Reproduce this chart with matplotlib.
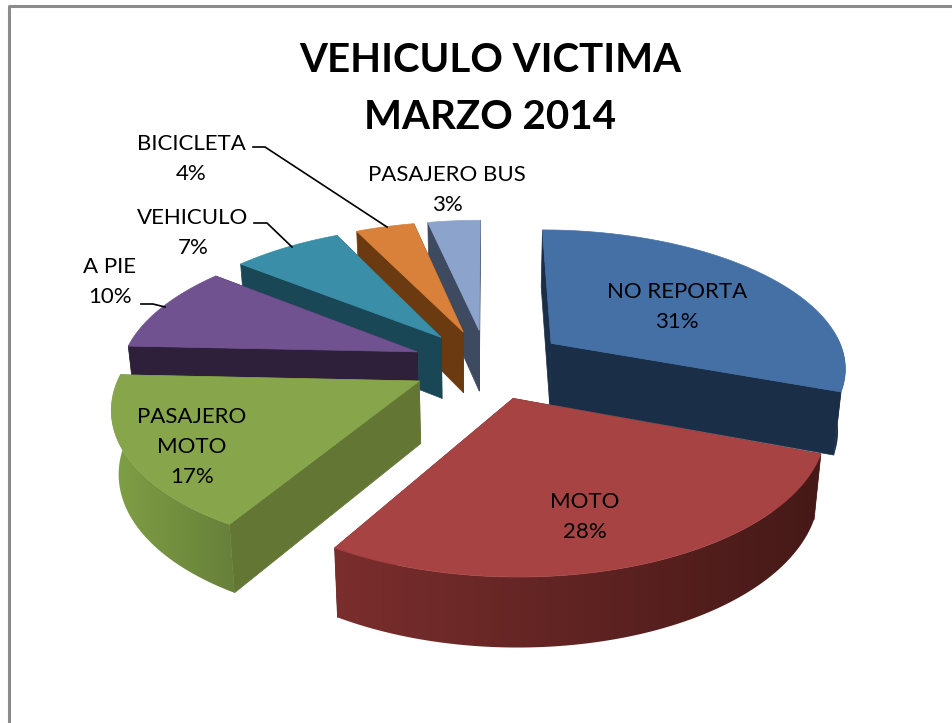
import numpy as np
import matplotlib
matplotlib.use("Agg")
import matplotlib.pyplot as plt
from matplotlib.colors import LinearSegmentedColormap
from matplotlib.patches import Polygon

# chart data
categories = ["NO REPORTA", "MOTO", "PASAJERO\nMOTO", "A PIE", "VEHICULO", "BICICLETA", "PASAJERO BUS"]
values = [30.7, 27.8, 17.2, 10.0, 7.1, 3.8, 3.4]
title = "VEHICULO VICTIMA\nMARZO 2014"

# styles, same order as categories
top_colors = ["#4470A6", "#A84343", "#87A54B", "#6F528F", "#3A8EA8", "#D9803A", "#8CA3CC"]
cut_colors = ["#1A2E47", "#5A2020", "#637634", "#2E203A", "#1A4756", "#6B3A10", "#3D4A60"]
rim_left = ["#1A2E47", "#7A2E2D", "#80A045", "#2E203A", "#1A4756", "#6B3A10", "#3D4A60"]
rim_right = ["#1A2E47", "#451917", "#66803A", "#2E203A", "#1A4756", "#6B3A10", "#3D4A60"]
explode = [0.27, 0.255, 0.255, 0.255, 0.255, 0.255, 0.255]
draw_order = [6, 5, 4, 3, 2, 0, 1]
label_pos = [(677, 307), (585, 517), (192, 447), (110, 282), (193, 233), (191, 159), (447, 190)]

# projection of the tilted disc
cx, cy = 487, 364
R, tilt, persp = 296, 0.465, 0.16
depth = 62
shrink = 0.02
depth_grow = 0.04


def project(u, v):
    f = 1 / (1 + persp * v)
    return cx + R * u * f, cy - R * tilt * v * f


def drop(px, py):
    # bottom of the extrusion, verticals lean to the middle and get longer to the front
    return px - (px - 480) * shrink, py + depth + (py - cy) * depth_grow


plt.rcParams["font.family"] = ["Lato", "DejaVu Sans"]
fig = plt.figure(figsize=(9.53, 7.23), dpi=100)
ax = fig.add_axes([0, 0, 1, 1])

# chart frame, only left and top edges are in the crop
ax.plot([9, 9, 953], [723, 6, 6], color="#8C8C8C", lw=2.2, zorder=1)

fractions = np.array(values) / sum(values)
ends = np.cumsum(fractions) * 2 * np.pi
starts = ends - fractions * 2 * np.pi

z = 2
for i in draw_order:
    mid = (starts[i] + ends[i]) / 2
    ou, ov = explode[i] * np.sin(mid), explode[i] * np.cos(mid)
    th = np.linspace(starts[i], ends[i], 120)
    x, y = project(ou + np.sin(th), ov + np.cos(th))
    ax_, ay_ = project(ou, ov)

    # cut faces
    for px, py in [(x[0], y[0]), (x[-1], y[-1])]:
        ax.add_patch(Polygon([(ax_, ay_), (px, py), drop(px, py), drop(ax_, ay_)],
                             closed=True, fc=cut_colors[i], ec=cut_colors[i], lw=0.5, zorder=z))
    z += 1

    # outer rim with a left to right gradient
    keep = np.cos(th) <= 0.05
    if keep.any():
        rx, ry = x[keep], y[keep]
        bx, by = drop(rx, ry)
        rim = Polygon(np.vstack([np.column_stack([rx, ry]),
                                 np.column_stack([bx[::-1], by[::-1]])]),
                      closed=True, fc="none", ec="none", transform=ax.transData)
        ax.add_patch(rim)
        cmap = LinearSegmentedColormap.from_list("rim", [rim_left[i], rim_right[i]])
        im = ax.imshow(np.linspace(0, 1, 256)[None, :], cmap=cmap, aspect="auto",
                       extent=(min(rx.min(), bx.min()), max(rx.max(), bx.max()), by.max(), ry.min()),
                       zorder=z)
        im.set_clip_path(rim)
    z += 1

    # top face
    ax.add_patch(Polygon(np.vstack([[ax_, ay_], np.column_stack([x, y])]), closed=True,
                         fc=top_colors[i], ec=top_colors[i], lw=0.5, zorder=z))
    z += 1

# leader lines
ax.plot([253, 265, 387], [147, 147, 227], color="black", lw=1.2, zorder=z)
ax.plot([254, 267, 292], [223, 223, 247], color="black", lw=1.2, zorder=z)
ax.plot([141, 153, 165], [304, 304, 307], color="black", lw=1.2, zorder=z)

for name, val, (lx, ly) in zip(categories, values, label_pos):
    ax.text(lx, ly, f"{name}\n{round(val)}%", ha="center", va="center", fontsize=16,
            linespacing=1.65, color="black", zorder=z + 1)

ax.text(490, 89, title, ha="center", va="center", fontsize=29, fontweight="bold",
        linespacing=1.65, color="black", zorder=z + 1)

ax.set_xlim(0, 953)
ax.set_ylim(723, 0)
ax.axis("off")

fig.savefig("out.png", dpi=100, facecolor="white")
